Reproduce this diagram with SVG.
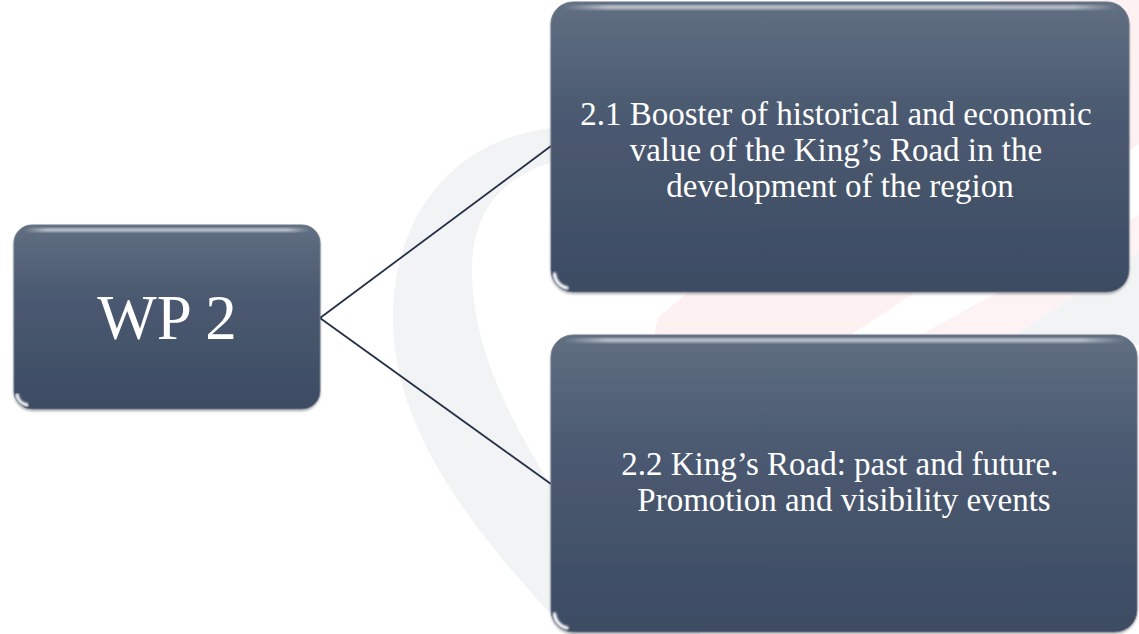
<svg xmlns="http://www.w3.org/2000/svg" width="1139" height="634" viewBox="0 0 1139 634">
  <defs>
    <linearGradient id="boxFill" x1="0" y1="0" x2="0" y2="1">
      <stop offset="0" stop-color="#616f82"/>
      <stop offset="0.35" stop-color="#4c5b71"/>
      <stop offset="1" stop-color="#3c4b63"/>
    </linearGradient>
    <linearGradient id="topShine" x1="0" y1="0" x2="1" y2="0">
      <stop offset="0" stop-color="#ffffff" stop-opacity="0"/>
      <stop offset="0.08" stop-color="#ffffff" stop-opacity="0.55"/>
      <stop offset="0.92" stop-color="#ffffff" stop-opacity="0.55"/>
      <stop offset="1" stop-color="#ffffff" stop-opacity="0"/>
    </linearGradient>
    <linearGradient id="sideShine" x1="0" y1="0" x2="0" y2="1">
      <stop offset="0" stop-color="#e4f2ff" stop-opacity="0.2"/>
      <stop offset="0.15" stop-color="#e4f2ff" stop-opacity="0.85"/>
      <stop offset="0.85" stop-color="#e4f2ff" stop-opacity="0.85"/>
      <stop offset="1" stop-color="#e4f2ff" stop-opacity="0.2"/>
    </linearGradient>
    <filter id="soft" x="-20%" y="-20%" width="140%" height="140%">
      <feGaussianBlur stdDeviation="1.2"/>
    </filter>
    <filter id="drop" x="-5%" y="-5%" width="110%" height="115%">
      <feDropShadow dx="0" dy="1.5" stdDeviation="1.2" flood-color="#000000" flood-opacity="0.35"/>
    </filter>
  </defs>
  <style>
    .box { fill: url(#boxFill); stroke: #6d7888; stroke-width: 1; filter: url(#drop); }
    .top { fill: url(#topShine); filter: url(#soft); }
    .side { stroke: url(#sideShine); stroke-width: 2.5; fill: none; filter: url(#soft); }
    .left { stroke: #8b9ab0; stroke-opacity: 0.55; stroke-width: 3; fill: none; filter: url(#soft); }
    .glint { stroke: #ffffff; stroke-width: 3.5; fill: none; stroke-linecap: round; filter: url(#soft); }
    .label { font-family: "Liberation Serif", "Times New Roman", serif; fill: #ffffff; text-anchor: middle; }
    .conn { stroke: #243044; stroke-width: 1.8; fill: none; }
  </style>

  <rect width="1139" height="634" fill="#ffffff"/>

  <!-- faint background logo: grey crescent and pink stripes -->
  <g id="backdrop">
    <path d="M 551 128 C 450 140 392 220 393 320 C 394 430 470 530 575 640 L 700 640 L 700 485 L 551 485 C 510 420 474 350 472 275 C 470 215 500 175 560 160 L 700 160 L 700 128 Z" fill="#f2f3f5"/>
    <polygon points="652,345 658,318 760,230 1000,0 1139,0 1139,144 843,340" fill="#fdf1f2"/>
    <polygon points="911,340 1139,215 1139,253 1008,340" fill="#fdf3f4"/>
    <polygon points="1008,340 1139,253 1139,345 1008,345" fill="#f2f3f5"/>
  </g>

  <!-- connectors -->
  <g id="connectors">
    <line class="conn" x1="320" y1="318" x2="551" y2="146"/>
    <line class="conn" x1="320" y1="318" x2="551" y2="484"/>
  </g>

  <!-- WP 2 -->
  <g id="node-wp2">
    <rect class="box" x="14" y="225" width="306" height="184" rx="18"/>
    <rect class="top" x="24" y="228" width="286" height="4" rx="2"/>
    <line class="side" x1="316" y1="240" x2="316" y2="394"/>
    <line class="left" x1="17" y1="240" x2="17" y2="394"/>
    <path class="glint" d="M 17 395 A 12 12 0 0 0 27 405"/>
    <text class="label" x="167" y="339" font-size="63">WP 2</text>
  </g>

  <!-- 2.1 -->
  <g id="node-2-1">
    <rect class="box" x="551" y="2" width="578" height="290" rx="22"/>
    <rect class="top" x="563" y="5" width="554" height="4.5" rx="2"/>
    <line class="side" x1="1125" y1="20" x2="1125" y2="274"/>
    <line class="left" x1="554" y1="20" x2="554" y2="274"/>
    <path class="glint" d="M 554.5 274 A 15 15 0 0 0 567 288"/>
    <text class="label" font-size="33">
      <tspan x="840" y="125">2.1 Booster of historical and economic</tspan>
      <tspan x="840" y="161">value of the King’s Road in the</tspan>
      <tspan x="840" y="197">development of the region</tspan>
    </text>
  </g>

  <!-- 2.2 -->
  <g id="node-2-2">
    <rect class="box" x="551" y="335" width="586" height="297" rx="22"/>
    <rect class="top" x="563" y="338" width="562" height="4.5" rx="2"/>
    <line class="side" x1="1133" y1="353" x2="1133" y2="614"/>
    <line class="left" x1="554" y1="353" x2="554" y2="614"/>
    <path class="glint" d="M 554.5 614 A 15 15 0 0 0 567 628"/>
    <text class="label" font-size="33">
      <tspan x="844" y="475">2.2 King’s Road: past and future.</tspan>
      <tspan x="844" y="511">Promotion and visibility events</tspan>
    </text>
  </g>
</svg>
